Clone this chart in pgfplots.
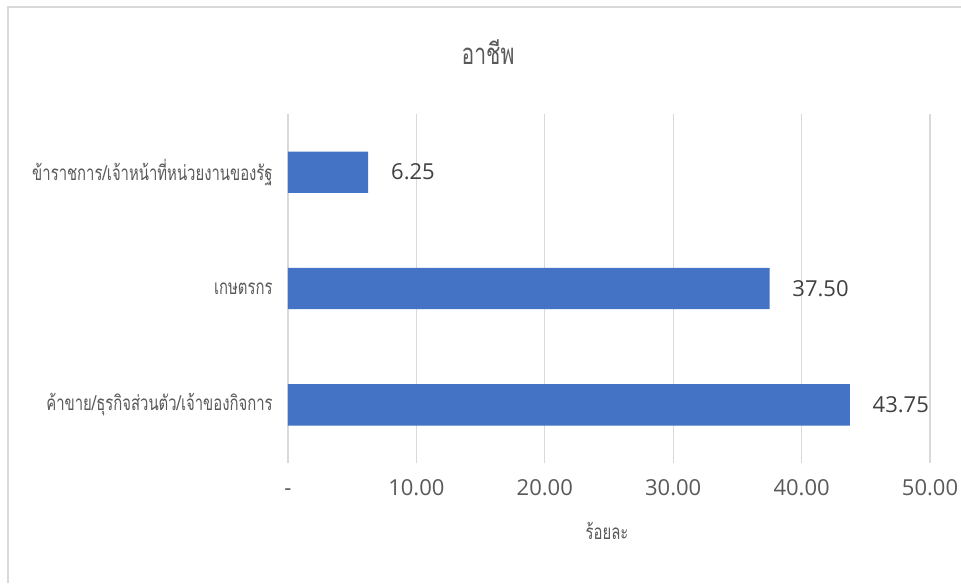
\documentclass[border=0pt]{standalone}
\usepackage{pgfplots}
\pgfplotsset{compat=1.18}
\usepackage{fontspec}
\setmainfont{Open Sans}
\newfontfamily\thaifont[Script=Thai, FakeStretch=0.72]{Loma}
\definecolor{barblue}{HTML}{4472C4}
\definecolor{txtgray}{HTML}{595959}
\definecolor{lblgray}{HTML}{404040}
\definecolor{gridgray}{HTML}{D9D9D9}

\begin{document}
\begin{tikzpicture}[x=0.75pt,y=0.75pt]
  \useasboundingbox (0,0) rectangle (961,583);
  \draw[gridgray, line width=1pt] (8,0) -- (8,576) -- (961,576);
  \node[txtgray, font=\thaifont\fontsize{22}{26}\selectfont] at (488,531) {อาชีพ};
  \node[txtgray, font=\thaifont\fontsize{15.5}{18}\selectfont] at (607,52) {ร้อยละ};
  \begin{axis}[
      at={(216pt,90pt)}, anchor=south west,
      scale only axis,
      width=481.5pt, height=261.75pt,
      xbar,
      bar width=31pt,
      xmin=0, xmax=50,
      ymin=-0.5, ymax=2.5,
      xtick={0,10,...,50},
      xticklabels={-,10.00,20.00,30.00,40.00,50.00},
      ytick={0,1,2},
      yticklabels={ค้าขาย/ธุรกิจส่วนตัว/เจ้าของกิจการ, เกษตรกร, ข้าราชการ/เจ้าหน้าที่หน่วยงานของรัฐ},
      xmajorgrids,
      major grid style={gridgray, line width=1pt},
      axis line style={draw=none},
      major tick length=0pt,
      xticklabel style={font=\fontsize{16.5}{19}\selectfont, text=txtgray,
        text height=12pt, text depth=0pt, yshift=-9pt},
      yticklabel style={font=\thaifont\fontsize{15.5}{18}\selectfont, text=txtgray, xshift=-8pt},
      nodes near coords,
      point meta=explicit symbolic,
      nodes near coords style={font=\fontsize{16.5}{19}\selectfont, text=lblgray, anchor=west, inner sep=0pt, xshift=17pt},
    ]
    \addplot[draw=none, fill=barblue] table[meta=lbl] {
      x     y  lbl
      43.75 0  43.75
      37.50 1  37.50
      6.25  2  6.25
    };
  \end{axis}
\end{tikzpicture}
\end{document}
